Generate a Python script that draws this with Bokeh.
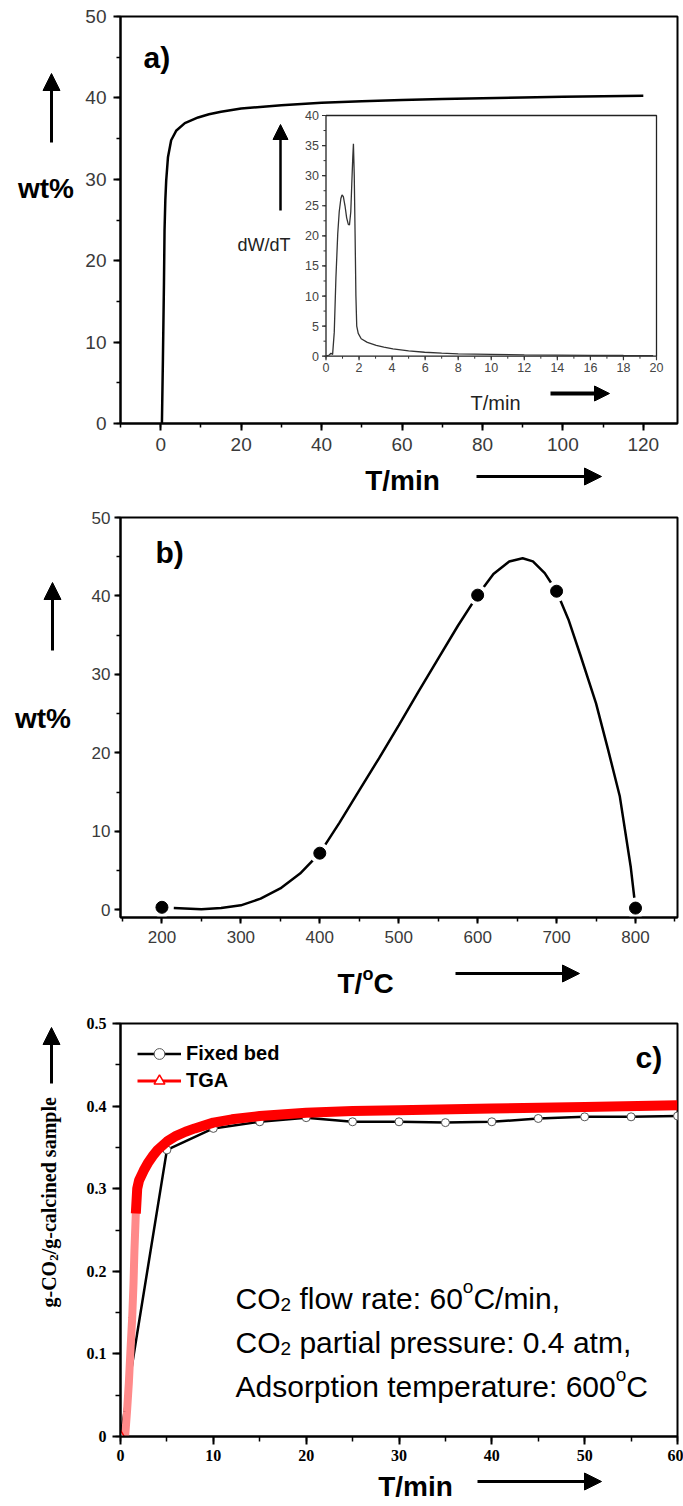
import math
from bokeh.plotting import figure
from bokeh.models import (Range1d, FixedTicker, Label, Arrow, NormalHead, Legend, LegendItem,
                          GridBox)
from bokeh.embed import file_html
from bokeh.resources import INLINE
from bokeh.core.properties import value

# ---------------- data ----------------
# (a) main uptake curve
a_time_min = [0.0, 0.3, 0.55, 0.8, 0.95, 1.15, 1.36, 1.8, 2.6, 3.9, 6.0, 9.3, 12, 15, 20, 30, 40,
              50, 60, 70, 80, 90, 100, 110, 120]
a_wt_pct = [0.0, 0.0, 8.0, 17.0, 23.7, 27.5, 29.8, 32.7, 34.8, 36.0, 36.9, 37.6, 38.0, 38.3, 38.7,
            39.1, 39.4, 39.6, 39.75, 39.85, 39.95, 40.05, 40.15, 40.2, 40.25]
a_xticks = [0, 20, 40, 60, 80, 100, 120]
a_xtick_labels = ["0", "20", "40", "60", "80", "100", "120"]
a_yticks = [0, 10, 20, 30, 40, 50]
a_ytick_labels = ["0", "10", "20", "30", "40", "50"]

# (a) inset derivative curve
inset_time_min = [0.0, 0.2, 0.3, 0.4, 0.5, 0.6, 0.71, 0.8, 0.9, 0.97, 1.05, 1.15, 1.25, 1.35, 1.42,
                  1.5, 1.56, 1.62, 1.66, 1.71, 1.76, 1.81, 1.86, 1.95, 2.13, 2.5, 3.04, 3.5, 4.05,
                  5.0, 5.97, 7.0, 8.0, 10.0, 12.0, 14.0, 16.0, 18.0, 19.8]
inset_dwdt = [0.0, 0.2, 0.5, 0.3, 4.0, 13.0, 20.3, 24.0, 26.2, 26.8, 26.5, 25.0, 23.0, 21.9, 21.8,
              24.0, 28.6, 33.0, 35.3, 30.0, 20.3, 10.0, 5.0, 3.8, 2.9, 2.3, 1.8, 1.5, 1.2,
              0.9, 0.66, 0.5, 0.39, 0.3, 0.22, 0.18, 0.15, 0.12, 0.1]
inset_xticks = [0, 2, 4, 6, 8, 10, 12, 14, 16, 18, 20]
inset_xtick_labels = ["0", "2", "4", "6", "8", "10", "12", "14", "16", "18", "20"]
inset_yticks = [0, 5, 10, 15, 20, 25, 30, 35, 40]
inset_ytick_labels = ["0", "5", "10", "15", "20", "25", "30", "35", "40"]

# (b) uptake vs temperature
b_temp_c = [200, 400, 600, 700, 800]
b_wt_pct = [0.3, 7.2, 40.1, 40.6, 0.2]
b_fit_temp = [215, 250, 275, 300, 325, 350, 375, 400, 425, 450, 475, 500, 525, 550, 575, 600,
              620, 640, 657, 670, 685, 700, 715, 730, 750, 765, 780, 794, 800]
b_fit_wt = [0.2, 0.05, 0.2, 0.55, 1.4, 2.7, 4.6, 7.2, 11.1, 15.2, 19.3, 23.5, 27.8, 32.0, 36.2,
            40.1, 42.8, 44.4, 44.8, 44.4, 42.9, 40.6, 37.0, 32.5, 26.3, 20.5, 14.5, 5.4, 0.2]
b_xticks = [200, 300, 400, 500, 600, 700, 800]
b_xtick_labels = ["200", "300", "400", "500", "600", "700", "800"]
b_yticks = [0, 10, 20, 30, 40, 50]
b_ytick_labels = ["0", "10", "20", "30", "40", "50"]

# (c) fixed bed vs TGA
c_fixed_time = [0, 5, 10, 15, 20, 25, 30, 35, 40, 45, 50, 55, 60]
c_fixed_uptake = [0.0, 0.347, 0.373, 0.381, 0.386, 0.381, 0.381, 0.380, 0.381, 0.385, 0.387,
                  0.387, 0.388]
c_tga_time = [0.0, 0.5, 0.7, 0.9, 1.1, 1.26, 1.4, 1.5, 1.65, 1.8, 2.0, 2.5, 3.0, 3.5, 4.0, 5.0,
              6.0, 7.0, 8.0, 10.0, 12.0, 15.0, 20.0, 25.0, 30.0, 40.0, 50.0, 60.0]
c_tga_uptake = [0.0, 0.0, 0.03, 0.065, 0.11, 0.144, 0.185, 0.225, 0.27, 0.300, 0.31, 0.322,
                0.332, 0.340, 0.347, 0.357, 0.364, 0.369, 0.373, 0.380, 0.384, 0.388, 0.392,
                0.394, 0.395, 0.397, 0.399, 0.401]
c_xticks = [0, 10, 20, 30, 40, 50, 60]
c_xtick_labels = ["0", "10", "20", "30", "40", "50", "60"]
c_yticks = [0, 0.1, 0.2, 0.3, 0.4, 0.5]
c_ytick_labels = ["0", "0.1", "0.2", "0.3", "0.4", "0.5"]
c_series = ["Fixed bed", "TGA"]

# ---------------- layout constants (page pixels) ----------------
SANS = "Liberation Sans"
SERIF = "Liberation Serif"
PW = 683
COL0 = 77            # width of the left strip holding the y titles
FL, FR = 120, 677    # common frame left / right
MAIN_W = PW - COL0
BL = FL - COL0
BR = PW - FR

W_REG = {' ': .278, '.': .278, ',': .278, ':': .278, '/': .278, 'A': .667, 'C': .722, 'O': .778,
         'T': .611, 'W': .944, 'a': .556, 'b': .556, 'c': .5, 'd': .556, 'e': .556, 'f': .278,
         'i': .222, 'l': .222, 'm': .833, 'n': .556, 'o': .556, 'p': .556, 'r': .333, 's': .5,
         't': .278, 'u': .556, 'w': .722, 'x': .5}
W_BOLD = {' ': .278, '/': .278, ')': .333, 'T': .611, 'C': .722, 'o': .611, 'm': .889, 'i': .278,
          'n': .611, 'w': .778, 't': .333, '%': .889}
W_SERIF_B = {'g': .5, '-': .333, 'C': .722, 'O': .778, '2': .5, '/': .278, 'c': .444, 'a': .5,
             'l': .278, 'i': .278, 'n': .556, 'e': .444, 'd': .556, ' ': .25, 's': .389,
             'm': .833, 'p': .556}


def tw(s, size, table):
    return sum(table.get(ch, 0.556) for ch in s) * size


def lab(p, x, y, text, size, font=SANS, bold=False, color="black", align="left",
        baseline="middle", angle=0.0, xo=0, yo=0):
    p.add_layout(Label(x=x, y=y, text=text, text_font=font, text_font_size=f"{size}px",
                       text_font_style="bold" if bold else "normal", text_color=color,
                       text_align=align, text_baseline=baseline, angle=angle,
                       x_offset=xo, y_offset=yo))


def run(p, x, y, pieces, font=SANS, bold=False, table=W_REG):
    off = 0.0
    for txt, size, dy in pieces:
        stripped = txt.lstrip(" ")
        off += tw(txt[:len(txt) - len(stripped)], size, table)
        lab(p, x, y, stripped, size, font=font, bold=bold, baseline="middle", xo=off, yo=dy)
        off += tw(stripped, size, table)


def arrow(p, x0, y0, x1, y1, head=17, width=3):
    p.add_layout(Arrow(end=NormalHead(size=head, fill_color="black", line_color="black",
                                      line_width=1),
                       line_color="black", line_width=width,
                       x_start=x0, y_start=y0, x_end=x1, y_end=y1))


def conv(frame, xr, yr):
    def fx(px):
        return xr[0] + (px - frame["left"]) * (xr[1] - xr[0]) / (frame["right"] - frame["left"])

    def fy(py):
        return yr[0] + (frame["bottom"] - py) * (yr[1] - yr[0]) / (frame["bottom"] - frame["top"])
    return fx, fy


def make_fig(h, xr, yr, mt, mb):
    p = figure(width=MAIN_W, height=h, x_range=Range1d(*xr), y_range=Range1d(*yr),
               output_backend="svg", toolbar_location=None, title=None, tools="",
               min_border_left=BL, min_border_right=BR, min_border_top=mt, min_border_bottom=mb)
    p.xgrid.visible = False
    p.ygrid.visible = False
    p.outline_line_color = "black"
    p.outline_line_width = 2
    p.background_fill_color = "white"
    p.border_fill_color = "white"
    return p


def blank_fig(w, h, xr, yr, ml, mr, mt, mb):
    p = figure(width=w, height=h, x_range=xr, y_range=yr, output_backend="svg",
               toolbar_location=None, title=None, tools="", x_axis_location=None,
               y_axis_location=None, min_border_left=ml, min_border_right=mr,
               min_border_top=mt, min_border_bottom=mb)
    p.grid.visible = False
    p.outline_line_color = None
    p.background_fill_color = "white"
    p.border_fill_color = "white"
    return p


def style_axes(p, xt, xm, xl, yt, ym, yl, font, size, color, bold, xstand, ystand, tout, mout):
    p.xaxis.ticker = FixedTicker(ticks=xt, minor_ticks=xm)
    p.yaxis.ticker = FixedTicker(ticks=yt, minor_ticks=ym)
    p.xaxis.major_label_overrides = {t: l for t, l in zip(xt, xl)}
    p.yaxis.major_label_overrides = {t: l for t, l in zip(yt, yl)}
    for ax, st in ((p.xaxis, xstand), (p.yaxis, ystand)):
        ax.axis_line_color = "black"
        ax.axis_line_width = 2
        ax.major_tick_in = 0
        ax.major_tick_out = tout
        ax.minor_tick_in = 0
        ax.minor_tick_out = mout
        ax.major_tick_line_width = 2
        ax.minor_tick_line_width = 1.5
        ax.major_tick_line_color = "black"
        ax.minor_tick_line_color = "black"
        ax.major_label_text_font = font
        ax.major_label_text_font_size = f"{size}px"
        ax.major_label_text_color = color
        ax.major_label_text_font_style = "bold" if bold else "normal"
        ax.major_label_standoff = st


# ---------------- panel a (page y 0..500) ----------------
A_TOP, A_MAIN_H, A_BOT_H = 0, 461, 39
FA = dict(left=FL, right=FR, top=16, bottom=423)
A_XR, A_YR = (-10, 128.5), (0, 50)
afx, afy = conv(FA, A_XR, A_YR)
pa = make_fig(A_MAIN_H, A_XR, A_YR, FA["top"] - A_TOP, A_TOP + A_MAIN_H - FA["bottom"])
style_axes(pa, a_xticks, list(range(-10, 130, 10)), a_xtick_labels,
           a_yticks, list(range(0, 51, 5)), a_ytick_labels,
           SANS, 19, "#3a3a3a", False, 7, 7, 7, 4)
pa.line(a_time_min, a_wt_pct, line_color="black", line_width=2.5)

IB = dict(left=325.5, right=656, top=115, bottom=355.7)
ixs = (IB["right"] - IB["left"]) / 20.0
iys = (IB["bottom"] - IB["top"]) / 40.0
pa.extra_x_ranges = {"ix": Range1d(-(IB["left"] - FA["left"]) / ixs,
                                   20 + (FA["right"] - IB["right"]) / ixs)}
pa.extra_y_ranges = {"iy": Range1d(-(FA["bottom"] - IB["bottom"]) / iys,
                                   40 + (IB["top"] - FA["top"]) / iys)}
rk = dict(x_range_name="ix", y_range_name="iy")
pa.quad(left=[0], right=[20], bottom=[0], top=[40], fill_color="white",
        line_color="#222222", line_width=1.3, **rk)
pa.line(inset_time_min, inset_dwdt, line_color="#333333", line_width=1.3, **rk)
ym_ticks = [v * 2.5 for v in range(0, 17)]
pa.segment(x0=[0] * len(ym_ticks), x1=[-2.5 / ixs] * len(ym_ticks), y0=ym_ticks, y1=ym_ticks,
           line_color="#333333", line_width=1, **rk)
pa.segment(x0=[0] * len(inset_yticks), x1=[-4.0 / ixs] * len(inset_yticks), y0=inset_yticks,
           y1=inset_yticks, line_color="#333333", line_width=1.2, **rk)
xm_ticks = list(range(0, 21))
pa.segment(x0=xm_ticks, x1=xm_ticks, y0=[0] * len(xm_ticks), y1=[-2.5 / iys] * len(xm_ticks),
           line_color="#333333", line_width=1, **rk)
pa.segment(x0=inset_xticks, x1=inset_xticks, y0=[0] * len(inset_xticks),
           y1=[-4.0 / iys] * len(inset_xticks), line_color="#333333", line_width=1.2, **rk)
pa.text(x=[0] * len(inset_yticks), y=inset_yticks, text=inset_ytick_labels, x_offset=-7,
        text_font=value(SANS), text_font_size=value("12.5px"), text_color="#444444",
        text_align="right", text_baseline="middle", **rk)
pa.text(x=inset_xticks, y=[0] * len(inset_xticks), text=inset_xtick_labels, y_offset=7,
        text_font=value(SANS), text_font_size=value("12.5px"), text_color="#444444",
        text_align="center", text_baseline="top", **rk)

lab(pa, afx(143), afy(57), "a)", 30, bold=True)
lab(pa, afx(263.5), afy(244), "dW/dT", 18, color="#222222", align="center")
arrow(pa, afx(280), afy(210), afx(280), afy(124), head=15, width=2.5)
lab(pa, afx(495), afy(402), "T/min", 20, color="#222222", align="center")
arrow(pa, afx(550), afy(393), afx(609), afy(393), head=15, width=4)

la = blank_fig(COL0, A_MAIN_H, Range1d(0, COL0), pa.y_range, 0, 0,
               FA["top"] - A_TOP, A_TOP + A_MAIN_H - FA["bottom"])
lab(la, 45.5, afy(188), "wt%", 28, bold=True, align="center")
arrow(la, 51, afy(142), 51, afy(73))

ba = blank_fig(MAIN_W, A_BOT_H, pa.x_range, Range1d(A_BOT_H, 0), BL, BR, 0, 0)
y0 = A_TOP + A_MAIN_H
lab(ba, afx(402), 480 - y0, "T/min", 28, bold=True, align="center")
arrow(ba, afx(476), 476 - y0, afx(601), 476 - y0)

# ---------------- panel b (page y 500..1000) ----------------
B_TOP, B_MAIN_H, B_BOT_H = 500, 458, 42
FBf = dict(left=FL, right=FR, top=517, bottom=917)
B_XR, B_YR = (147.5, 853.2), (-1, 50)
bfx, bfy = conv(FBf, B_XR, B_YR)
pb = make_fig(B_MAIN_H, B_XR, B_YR, FBf["top"] - B_TOP, B_TOP + B_MAIN_H - FBf["bottom"])
style_axes(pb, b_xticks, list(range(150, 851, 50)), b_xtick_labels,
           b_yticks, list(range(0, 51, 5)), b_ytick_labels,
           SANS, 17, "#3a3a3a", False, 7, 4, 6, 4)
pb.line(b_fit_temp, b_fit_wt, line_color="black", line_width=2.5)
pb.scatter(b_temp_c, b_wt_pct, size=21, fill_color="white", line_color=None)
pb.scatter(b_temp_c, b_wt_pct, size=12, fill_color="black", line_color="black")
lab(pb, bfx(155), bfy(552), "b)", 30, bold=True)

lb = blank_fig(COL0, B_MAIN_H, Range1d(0, COL0), pb.y_range, 0, 0,
               FBf["top"] - B_TOP, B_TOP + B_MAIN_H - FBf["bottom"])
lab(lb, 42.5, bfy(718), "wt%", 28, bold=True, align="center")
arrow(lb, 52, bfy(650), 52, bfy(582))

bb = blank_fig(MAIN_W, B_BOT_H, pb.x_range, Range1d(B_BOT_H, 0), BL, BR, 0, 0)
y0 = B_TOP + B_MAIN_H
run(bb, bfx(337), 983 - y0, [("T/", 28, 0), ("o", 18, 10), ("C", 28, 0)], bold=True,
    table=W_BOLD)
arrow(bb, bfx(455), 973 - y0, bfx(579), 973 - y0)

# ---------------- panel c (page y 1000..1506) ----------------
C_TOP, C_MAIN_H, C_BOT_H = 1000, 470, 36
FCf = dict(left=FL, right=FR, top=1023, bottom=1436)
C_XR, C_YR = (0, 60), (0, 0.5)
cfx, cfy = conv(FCf, C_XR, C_YR)
pc = make_fig(C_MAIN_H, C_XR, C_YR, FCf["top"] - C_TOP, C_TOP + C_MAIN_H - FCf["bottom"])
style_axes(pc, c_xticks, list(range(0, 61, 5)), c_xtick_labels,
           c_yticks, [i * 0.05 for i in range(11)], c_ytick_labels,
           SERIF, 16, "black", True, 5, 6, 8, 5)

fb_line = pc.line(c_fixed_time, c_fixed_uptake, line_color="black", line_width=2.5)
fb_pts = pc.scatter(c_fixed_time, c_fixed_uptake, marker="circle", size=8, fill_color="white",
                    line_color="#555555", line_width=1)
n_steep = 10
pc.line(c_tga_time[:n_steep], c_tga_uptake[:n_steep], line_color="#ff8a8a", line_width=8)
pc.line(c_tga_time[n_steep - 2:], c_tga_uptake[n_steep - 2:], line_color="#ff0000",
        line_width=10)
tga_leg_line = pc.line(c_tga_time[:1], c_tga_uptake[:1], line_color="#ff0000", line_width=3)
tga_leg_pts = pc.scatter(c_tga_time[:1], c_tga_uptake[:1], marker="triangle", size=11,
                         fill_color="white", line_color="#ff0000", line_width=1.5)
leg = Legend(items=[LegendItem(label=c_series[0], renderers=[fb_line, fb_pts]),
                    LegendItem(label=c_series[1], renderers=[tga_leg_line, tga_leg_pts])],
             location="top_left", margin=17, padding=10, glyph_width=44, glyph_height=27,
             label_height=27, spacing=0, label_standoff=5, label_text_font=SANS,
             label_text_font_size="20px", label_text_font_style="bold",
             label_text_color="black", border_line_color=None, background_fill_alpha=0)
pc.add_layout(leg)

lab(pc, cfx(635), cfy(1057), "c)", 30, bold=True)
run(pc, cfx(235), cfy(1298), [("CO", 30, 0), ("2", 19, -6), (" flow rate: 60", 30, 0),
                              ("o", 19, 12), ("C/min,", 30, 0)])
run(pc, cfx(235), cfy(1342), [("CO", 30, 0), ("2", 19, -6),
                              (" partial pressure: 0.4 atm,", 30, 0)])
run(pc, cfx(235), cfy(1386), [("Adsorption temperature: 600", 30, 0), ("o", 19, 12),
                              ("C", 30, 0)])

lc = blank_fig(COL0, C_MAIN_H, Range1d(0, COL0), pc.y_range, 0, 0,
               FCf["top"] - C_TOP, C_TOP + C_MAIN_H - FCf["bottom"])
w1 = tw("g-CO", 20, W_SERIF_B)
w2 = tw("2", 13, W_SERIF_B)
lab(lc, 48, cfy(1307), "g-CO", 20, font=SERIF, bold=True, angle=math.pi / 2)
lab(lc, 48, cfy(1307), "2", 13, font=SERIF, bold=True, angle=math.pi / 2, yo=w1, xo=5)
lab(lc, 48, cfy(1307), "/g-calcined sample", 20, font=SERIF, bold=True, angle=math.pi / 2,
    yo=w1 + w2)
arrow(lc, 51, cfy(1083), 51, cfy(1027))

bc = blank_fig(MAIN_W, C_BOT_H, pc.x_range, Range1d(C_BOT_H, 0), BL, BR, 0, 0)
y0 = C_TOP + C_MAIN_H
lab(bc, cfx(415), 1486 - y0, "T/min", 28, bold=True, align="center")
arrow(bc, cfx(477), 1481 - y0, cfx(601), 1481 - y0)

layout = GridBox(children=[(la, 0, 0), (pa, 0, 1), (ba, 1, 1),
                           (lb, 2, 0), (pb, 2, 1), (bb, 3, 1),
                           (lc, 4, 0), (pc, 4, 1), (bc, 5, 1)], spacing=0)
open("out.html", "w").write(file_html(layout, INLINE, title="chart"))
